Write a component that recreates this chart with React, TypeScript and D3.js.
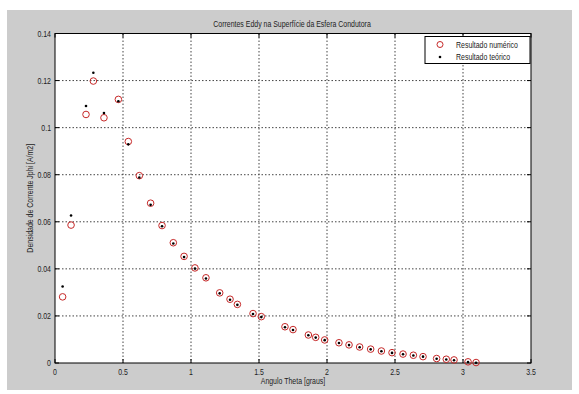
import * as d3 from "d3";

// theta values (rad)
const theta = [
  0.056, 0.118, 0.228, 0.282, 0.36, 0.466, 0.539, 0.62, 0.703, 0.787, 0.87, 0.949,
  1.029, 1.11, 1.211, 1.287, 1.341, 1.456, 1.517, 1.691, 1.75, 1.863, 1.917, 1.983,
  2.088, 2.162, 2.24, 2.321, 2.4, 2.478, 2.559, 2.635, 2.706, 2.806, 2.877, 2.934,
  3.037, 3.096,
];

const numerico = [
  0.0281, 0.0586, 0.1056, 0.1198, 0.1042, 0.112, 0.0941, 0.0796, 0.0679, 0.0584,
  0.0511, 0.0453, 0.0404, 0.0362, 0.0298, 0.0271, 0.0249, 0.0210, 0.0197, 0.0154,
  0.0142, 0.0119, 0.0109, 0.0098, 0.0086, 0.0077, 0.0068, 0.0059, 0.0051, 0.0044,
  0.0038, 0.0033, 0.0027, 0.0019, 0.0016, 0.0013, 0.0005, 0.0002,
];

const teorico = [
  0.0325, 0.0627, 0.1092, 0.1233, 0.1062, 0.1112, 0.0929, 0.0788, 0.0672, 0.0581,
  0.0508, 0.0450, 0.0401, 0.0359, 0.0296, 0.0269, 0.0247, 0.0208, 0.0195, 0.0152,
  0.0140, 0.0118, 0.0108, 0.0097, 0.0085, 0.0076, 0.0067, 0.0058, 0.0050, 0.0043,
  0.0037, 0.0032, 0.0027, 0.0018, 0.0015, 0.0012, 0.0004, 0.0001,
];

const xTicks = [0, 0.5, 1, 1.5, 2, 2.5, 3, 3.5];
const yTicks = [0, 0.02, 0.04, 0.06, 0.08, 0.1, 0.12, 0.14];

const W = 579;
const H = 394;
const left = 55, right = 531, top = 33.5, bottom = 363;
const font = "'Liberation Sans', Arial, sans-serif";
const fs = 8.5;

// condensed-looking text (the original uses a narrow Helvetica)
function T({ x, y, anchor = "start", rotate = 0, children }: any) {
  return (
    <text
      transform={`translate(${x},${y}) rotate(${rotate}) scale(0.82,1)`}
      fontSize={fs}
      textAnchor={anchor}
      fill="#222"
    >
      {children}
    </text>
  );
}

export default function App() {
  const x = d3.scaleLinear().domain([0, 3.5]).range([left, right]);
  const y = d3.scaleLinear().domain([0, 0.14]).range([bottom, top]);
  const fmt = (v: number) => (v === 0 ? "0" : String(v));

  return (
    <svg
      width={W}
      height={H}
      style={{ position: "absolute", left: 0, top: 0, background: "#fff" }}
      fontFamily={font}
    >
      <rect x={7} y={10} width={565} height={380} fill="#cccccc" />
      <rect x={left} y={top} width={right - left} height={bottom - top} fill="#fff" />

      {/* grid */}
      {xTicks.slice(1, -1).map((t) => (
        <line key={"gx" + t} x1={x(t)} x2={x(t)} y1={top} y2={bottom}
          stroke="#444" strokeWidth={1} strokeDasharray="1.5,2" />
      ))}
      {yTicks.slice(1, -1).map((t) => (
        <line key={"gy" + t} x1={left} x2={right} y1={y(t)} y2={y(t)}
          stroke="#444" strokeWidth={1} strokeDasharray="1.5,2" />
      ))}

      {/* ticks */}
      {xTicks.map((t) => (
        <g key={"tx" + t}>
          <line x1={x(t)} x2={x(t)} y1={bottom} y2={bottom - 4} stroke="#000" />
          <line x1={x(t)} x2={x(t)} y1={top} y2={top + 4} stroke="#000" />
          <T x={x(t)} y={bottom + 12} anchor="middle">{fmt(t)}</T>
        </g>
      ))}
      {yTicks.map((t) => (
        <g key={"ty" + t}>
          <line x1={left} x2={left + 4} y1={y(t)} y2={y(t)} stroke="#000" />
          <line x1={right} x2={right - 4} y1={y(t)} y2={y(t)} stroke="#000" />
          <T x={left - 4} y={y(t) + 3} anchor="end">{fmt(t)}</T>
        </g>
      ))}

      <rect x={left} y={top} width={right - left} height={bottom - top}
        fill="none" stroke="#000" strokeWidth={1} />

      {/* data */}
      {theta.map((t, i) => (
        <circle key={"n" + i} cx={x(t)} cy={y(numerico[i])} r={3.3}
          fill="none" stroke="#c62828" strokeWidth={1} />
      ))}
      {theta.map((t, i) => (
        <circle key={"t" + i} cx={x(t)} cy={y(teorico[i])} r={1.3} fill="#000" />
      ))}

      {/* title & labels */}
      <T x={(left + right) / 2 - 1} y={27} anchor="middle">
        Correntes Eddy na Superfície da Esfera Condutora
      </T>
      <T x={(left + right) / 2} y={384} anchor="middle">Angulo Theta [graus]</T>
      <T x={33} y={(top + bottom) / 2} anchor="middle" rotate={-90}>
        Densidade de Corrente Jphi [A/m2]
      </T>

      {/* legend */}
      <rect x={425} y={36.5} width={105} height={27} fill="#fff" stroke="#000" strokeWidth={1} />
      <circle cx={440} cy={44.5} r={3} fill="none" stroke="#c62828" strokeWidth={1} />
      <circle cx={440} cy={57} r={1.3} fill="#000" />
      <T x={456} y={47.5}>Resultado numérico</T>
      <T x={456} y={60}>Resultado teórico</T>
    </svg>
  );
}
